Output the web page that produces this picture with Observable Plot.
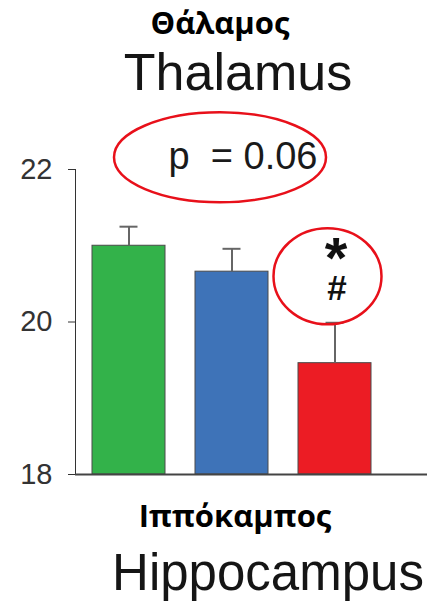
<!DOCTYPE html>
<html>
<head>
<meta charset="utf-8">
<script src="https://cdn.jsdelivr.net/npm/d3@7"></script>
<script src="https://cdn.jsdelivr.net/npm/@observablehq/plot@0.6"></script>
<style>
  html, body { margin: 0; padding: 0; background: #fff; }
  #page { position: relative; width: 427px; height: 602px; overflow: hidden; }
  .hdr { position: relative; width: 427px; height: 104px; }
  .ftr { position: relative; width: 427px; height: 102px; }
  .t { position: absolute; white-space: nowrap; transform: translateX(-50%); line-height: 1; }
  .greek { font-family: "Open Sans", "Noto Sans", sans-serif; font-weight: 700; font-size: 31px; color: #000; }
  .eng { font-family: "Liberation Sans", Arial, sans-serif; font-weight: 400; color: #151515; }
  #chart svg { display: block; }
</style>
</head>
<body>
<div id="page">
  <div class="hdr">
    <div class="t greek" style="left:220px; top:6.5px;">Θάλαμος</div>
    <div class="t eng" style="left:238px; top:46px; font-size:52px;">Thalamus</div>
  </div>
  <div id="chart"></div>
  <div class="ftr">
    <div class="t greek" style="left:235px; top:0px;">Ιππόκαμπος</div>
    <div class="t eng" style="left:268px; top:47px; font-size:51px;">Hippocampus</div>
  </div>
</div>
<script>
// ---- data ----
const groups = ["Group 1", "Group 2", "Group 3"];
const means  = [21.0, 20.66, 19.46];
const sems   = [0.25, 0.30, 0.53];
const colors = ["#33b24a", "#3e73b8", "#ec1c24"];
const yTicks = [18, 20, 22];
const pLabel = "p  = 0.06";
const sigMarks = ["*", "#"];

const data = groups.map((g, i) => ({group: g, value: means[i], hi: means[i] + sems[i]}));

// custom ellipse symbol (fixed radii)
function ellipseSymbol(rx, ry) {
  const k = 0.5523;
  return {
    draw(ctx) {
      ctx.moveTo(rx, 0);
      ctx.bezierCurveTo(rx, ry * k, rx * k, ry, 0, ry);
      ctx.bezierCurveTo(-rx * k, ry, -rx, ry * k, -rx, 0);
      ctx.bezierCurveTo(-rx, -ry * k, -rx * k, -ry, 0, -ry);
      ctx.bezierCurveTo(rx * k, -ry, rx, -ry * k, rx, 0);
      ctx.closePath();
    }
  };
}

const chart = Plot.plot({
  width: 427,
  height: 396,
  marginTop: 65,
  marginBottom: 26,
  marginLeft: 75,
  marginRight: 0,
  style: {fontFamily: "Liberation Sans, Arial, sans-serif", fontSize: "29px", color: "#333", background: "transparent", overflow: "visible"},
  x: {domain: groups, range: [91, 371], paddingInner: 0.295, paddingOuter: 0, axis: null},
  y: {domain: [18, 22], ticks: yTicks, tickSize: 7, tickPadding: 16, line: true, label: null, tickFormat: d => String(d)},
  color: {domain: groups, range: colors},
  marks: [
    Plot.barY(data, {x: "group", y1: 18, y2: "value", fill: "group", stroke: "#4a4a4a", strokeWidth: 1}),
    Plot.ruleX(data, {x: "group", y1: "value", y2: "hi", stroke: "#666", strokeWidth: 2}),
    Plot.tickY(data, {x: "group", y: "hi", stroke: "#666", strokeWidth: 2, insetLeft: 27.5, insetRight: 27.5}),
    Plot.ruleY([18], {stroke: "#444", strokeWidth: 2}),
    Plot.text([pLabel], {x: [groups[1]], y: [22.17], text: d => d, dx: 11, fontSize: 38, fill: "#1a1a1a"}),
    Plot.text([sigMarks.join("\n")], {x: [groups[2]], y: [20.6], text: d => d, fontSize: 35, fontWeight: "bold", fill: "#111"}),
    Plot.dot([0], {x: [groups[1]], y: [22.16], dx: -12, symbol: ellipseSymbol(106, 45), stroke: "#e8101a", strokeWidth: 2.5, fill: "none"}),
    Plot.dot([0], {x: [groups[2]], y: [20.60], dx: -7.5, symbol: ellipseSymbol(54, 48), stroke: "#e8101a", strokeWidth: 2.5, fill: "none"})
  ]
});

// size the two stacked significance marks individually
d3.select(chart).selectAll("text").each(function () {
  const tsp = d3.select(this).selectAll("tspan");
  if (tsp.size() === 2 && this.textContent.includes("#")) {
    d3.select(this).attr("dy", null);
    tsp.each(function (d, i) {
      const s = d3.select(this).attr("dy", null);
      if (i === 0) s.attr("font-size", 58).attr("x", 1).attr("y", 2);
      else s.attr("font-size", 35).attr("x", 2).attr("y", 24);
    });
  }
});

document.getElementById("chart").appendChild(chart);
</script>
</body>
</html>
